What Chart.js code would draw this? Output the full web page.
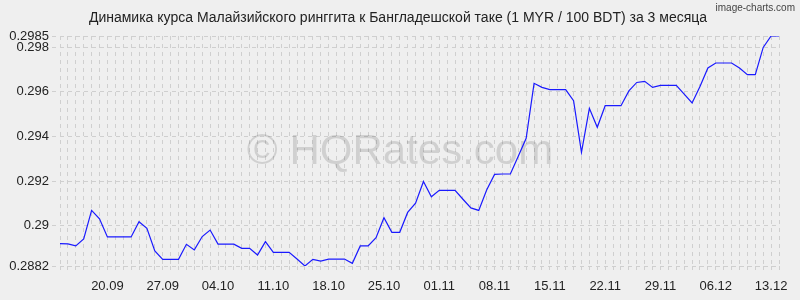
<!DOCTYPE html>
<html>
<head>
<meta charset="utf-8">
<script src="https://cdn.jsdelivr.net/npm/chart.js@4"></script>
<style>
  html, body { margin: 0; padding: 0; background: #efefef; }
  #wrap { width: 800px; height: 300px; }
</style>
</head>
<body>
<div id="wrap"><canvas id="myChart" width="800" height="300"></canvas></div>
<script>
var title = 'Динамика курса Малайзийского ринггита к Бангладешской таке (1 MYR / 100 BDT) за 3 месяца';

// daily dates, 14.09 - 14.12
var dates = [
  '14.09','15.09','16.09','17.09','18.09','19.09','20.09','21.09','22.09','23.09','24.09','25.09','26.09','27.09','28.09','29.09','30.09',
  '01.10','02.10','03.10','04.10','05.10','06.10','07.10','08.10','09.10','10.10','11.10','12.10','13.10','14.10','15.10','16.10',
  '17.10','18.10','19.10','20.10','21.10','22.10','23.10','24.10','25.10','26.10','27.10','28.10','29.10','30.10','31.10',
  '01.11','02.11','03.11','04.11','05.11','06.11','07.11','08.11','09.11','10.11','11.11','12.11','13.11','14.11','15.11','16.11',
  '17.11','18.11','19.11','20.11','21.11','22.11','23.11','24.11','25.11','26.11','27.11','28.11','29.11','30.11',
  '01.12','02.12','03.12','04.12','05.12','06.12','07.12','08.12','09.12','10.12','11.12','12.12','13.12','14.12'
];

var rates = [
  0.28920, 0.28919, 0.28910, 0.28941, 0.29069, 0.29031, 0.28950, 0.28950, 0.28950, 0.28950,
  0.29018, 0.28989, 0.28887, 0.28850, 0.28850, 0.28850, 0.28917, 0.28892, 0.28952, 0.28981,
  0.28918, 0.28918, 0.28918, 0.28899, 0.28899, 0.28869, 0.28929, 0.28881, 0.28881, 0.28881,
  0.28851, 0.28820, 0.28850, 0.28842, 0.28851, 0.28851, 0.28851, 0.28832, 0.28910, 0.28910,
  0.28947, 0.29036, 0.28971, 0.28971, 0.29060, 0.29101, 0.29198, 0.29130, 0.29159, 0.29159,
  0.29159, 0.29119, 0.29080, 0.29069, 0.29160, 0.29230, 0.29232, 0.29232, 0.29311, 0.29392,
  0.29638, 0.29620, 0.29610, 0.29610, 0.29610, 0.29560, 0.29329, 0.29526, 0.29441, 0.29538,
  0.29538, 0.29538, 0.29604, 0.29642, 0.29647, 0.29620, 0.29629, 0.29629, 0.29629, 0.29590,
  0.29550, 0.29624, 0.29707, 0.29729, 0.29729, 0.29729, 0.29707, 0.29677, 0.29677, 0.29799,
  0.29850, 0.29850
];

var xTickLabels = ['20.09','27.09','04.10','11.10','18.10','25.10','01.11','08.11','15.11','22.11','29.11','06.12','13.12'];
var yTicks = [0.2882, 0.29, 0.292, 0.294, 0.296, 0.298, 0.2985];

var textColor = '#222';
var gridColor = '#cfcfcf';

// title, watermark and site credit
var decorations = {
  id: 'decorations',
  beforeDatasetsDraw: function(chart) {
    var c = chart.ctx;
    c.save();
    c.fillStyle = 'rgba(0,0,0,0.13)';
    c.font = '42px "Liberation Sans", Arial, sans-serif';
    c.textAlign = 'center';
    c.textBaseline = 'alphabetic';
    c.fillText('\u00A9 HQRates.com', 400, 164);
    c.restore();
  },
  afterDraw: function(chart) {
    var c = chart.ctx;
    c.save();
    c.fillStyle = textColor;
    c.font = '14px "Liberation Sans", Arial, sans-serif';
    c.textAlign = 'center';
    c.textBaseline = 'middle';
    c.fillText(title, 398, 18);
    c.fillStyle = '#444';
    c.font = '10px "Liberation Sans", Arial, sans-serif';
    c.textAlign = 'right';
    c.fillText('image-charts.com', 795, 8);
    c.restore();
  }
};

var ctx = document.getElementById('myChart').getContext('2d');
var myChart = new Chart(ctx, {
  type: 'line',
  data: {
    labels: dates,
    datasets: [{
      data: rates,
      borderColor: '#1a1aff',
      borderWidth: 1.2,
      pointRadius: 0,
      tension: 0,
      fill: false
    }]
  },
  options: {
    responsive: false,
    animation: false,
    layout: { padding: { top: 36, right: 21, left: 0, bottom: 0 } },
    plugins: { legend: { display: false }, tooltip: { enabled: false } },
    scales: {
      x: {
        offset: false,
        border: { display: false, dash: [4, 4] },
        grid: { color: gridColor, tickLength: 6, tickBorderDash: [4, 4] },
        ticks: {
          autoSkip: false,
          maxRotation: 0,
          padding: 7,
          color: textColor,
          font: { family: '"Liberation Sans", Arial, sans-serif', size: 13 },
          callback: function(v, i) {
            var d = dates[i];
            return xTickLabels.indexOf(d) >= 0 ? d : '';
          }
        },
        afterFit: function(scale) { scale.height = 34; }
      },
      y: {
        min: 0.2882,
        max: 0.2985,
        border: { display: false, dash: [4, 4] },
        grid: { color: gridColor, tickLength: 8, tickBorderDash: [4, 4] },
        afterBuildTicks: function(scale) {
          scale.ticks = yTicks.map(function(v) { return { value: v }; });
        },
        ticks: {
          padding: 3,
          color: textColor,
          font: { family: '"Liberation Sans", Arial, sans-serif', size: 13 },
          callback: function(v) { return String(v); }
        },
        afterFit: function(scale) { scale.width = 60; }
      }
    }
  },
  plugins: [decorations]
});
</script>
</body>
</html>
